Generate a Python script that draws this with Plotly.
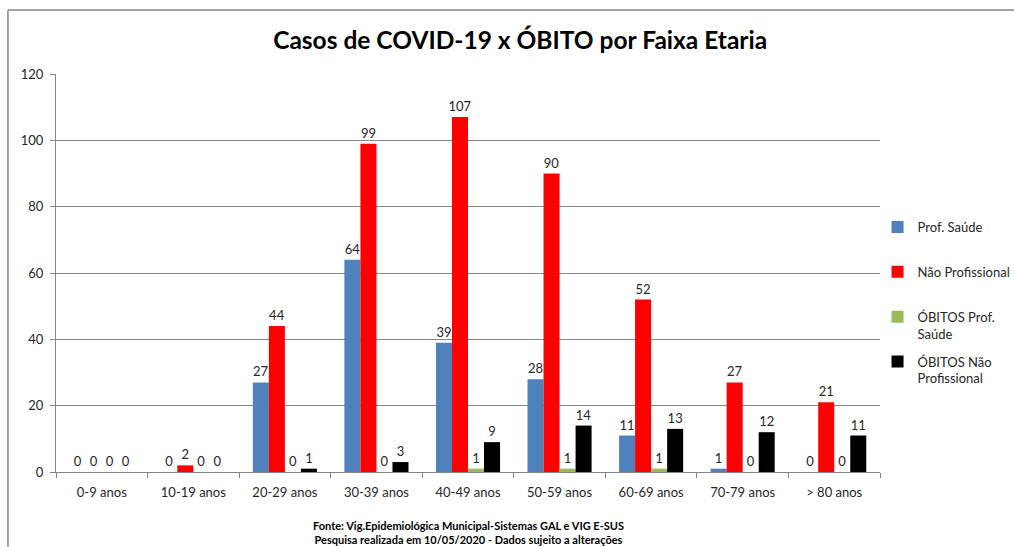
import plotly.graph_objects as go

categories = ["0-9 anos", "10-19 anos", "20-29 anos", "30-39 anos", "40-49 anos",
              "50-59 anos", "60-69 anos", "70-79 anos", "> 80 anos"]
prof_saude = [0, 0, 27, 64, 39, 28, 11, 1, 0]
nao_prof = [0, 2, 44, 99, 107, 90, 52, 27, 21]
obitos_prof = [0, 0, 0, 0, 1, 1, 1, 0, 0]
obitos_nao_prof = [0, 0, 1, 3, 9, 14, 13, 12, 11]

series = [
    ("Prof. Saúde<br>\u00a0", prof_saude, "#4F81BD"),
    ("Não Profissional<br>\u00a0", nao_prof, "#FF0000"),
    ("ÓBITOS Prof.<br>Saúde", obitos_prof, "#9BBB59"),
    ("ÓBITOS Não<br>Profissional", obitos_nao_prof, "#000000"),
]

FONT = "Lato, 'Open Sans', sans-serif"

fig = go.Figure()
for i, (name, vals, color) in enumerate(series):
    fig.add_trace(go.Bar(
        x=categories, y=vals, name=name, marker_color=color,
        marker_line_width=0,
        text=[str(v) for v in vals], textposition="outside",
        constraintext="none",
        textfont=dict(size=13, color="#262626", family=FONT),
        cliponaxis=False, legendgroup=f"g{i}",
    ))

fig.update_layout(
    width=1014, height=547,
    paper_bgcolor="white", plot_bgcolor="white",
    barmode="group", bargap=0.3, bargroupgap=0,
    margin=dict(l=56, r=134, t=74, b=75, autoexpand=False),
    title=dict(text="<b>Casos de COVID-19 x ÓBITO por Faixa Etaria</b>",
               x=0.513, xanchor="center", y=0.927, yanchor="middle",
               font=dict(size=24.5, color="black", family=FONT)),
    font=dict(family=FONT, color="#262626"),
    legend=dict(x=0.997, xanchor="left", y=0.653, yanchor="top",
                valign="top",
                font=dict(size=13, color="#262626", family=FONT),
                tracegroupgap=8, itemwidth=30, bgcolor="rgba(0,0,0,0)"),
    showlegend=True,
)
fig.update_xaxes(showline=True, linecolor="#868686", linewidth=1,
                 ticks="outside", ticklen=5, tickcolor="#868686",
                 tickson="boundaries", ticklabelstandoff=8,
                 tickfont=dict(size=13, family=FONT, color="#262626"))
fig.update_yaxes(range=[0, 120], dtick=20, showline=True, linecolor="#868686",
                 linewidth=1, ticks="outside", ticklen=5, tickcolor="#868686",
                 showgrid=True, gridcolor="#868686", gridwidth=1,
                 ticklabelstandoff=4,
                 tickfont=dict(size=13, family=FONT, color="#262626"), zeroline=False)

fig.add_annotation(
    text="<b>Fonte: Vig.Epidemiológica Municipal-Sistemas GAL e VIG E-SUS<br>"
         "Pesquisa realizada em 10/05/2020 - Dados sujeito a alterações</b>",
    xref="paper", yref="paper", x=0.5, y=-0.151, yanchor="middle",
    showarrow=False, font=dict(size=11, color="black", family=FONT),
    align="center")

# chart border (top and left edges visible)
fig.add_shape(type="line", xref="paper", yref="paper",
              x0=-0.0583, x1=1.17, y0=1.1608, y1=1.1608,
              line=dict(color="#868686", width=1.5))
fig.add_shape(type="line", xref="paper", yref="paper",
              x0=-0.0583, x1=-0.0583, y0=1.1608, y1=-0.2,
              line=dict(color="#868686", width=1.5))

fig.write_html("out.html", config={"displayModeBar": False},
               post_script="document.body.style.margin='0';document.body.style.overflow='hidden';")
